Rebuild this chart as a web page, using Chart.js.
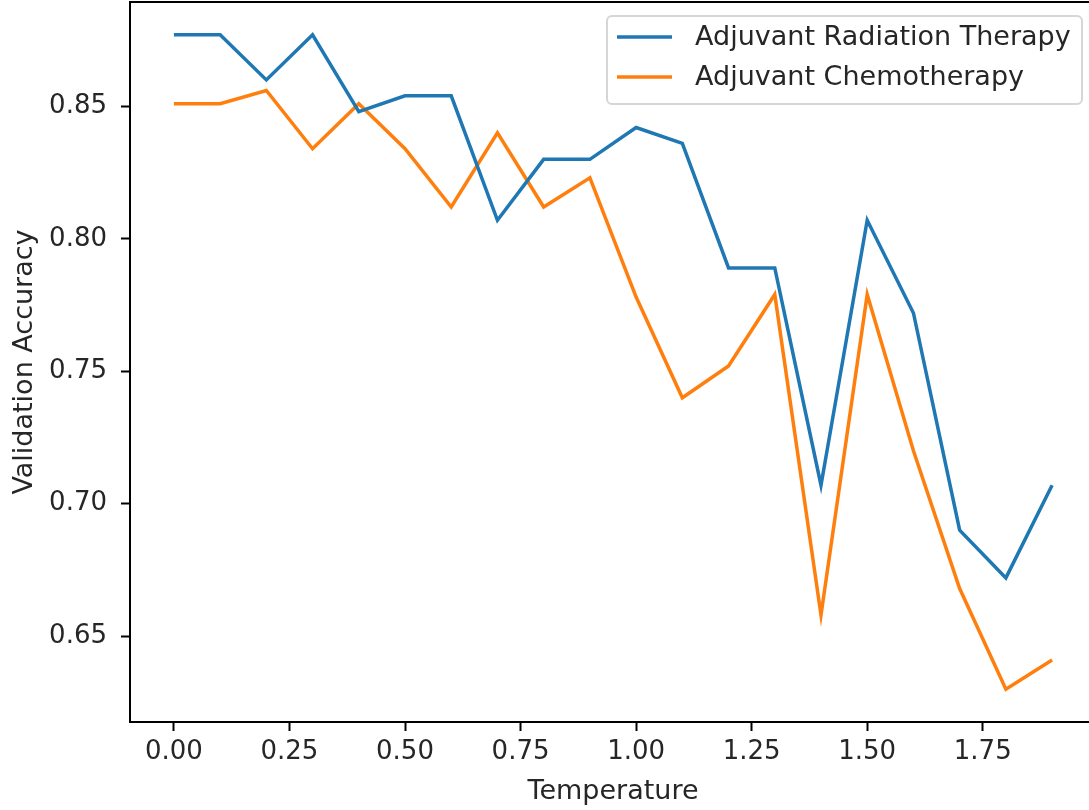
<!DOCTYPE html>
<html>
<head>
<meta charset="utf-8">
<script src="https://cdn.jsdelivr.net/npm/chart.js@4/dist/chart.umd.min.js"></script>
<style>
  html, body { margin: 0; padding: 0; background: #fff; overflow: hidden; }
  #chart { display: block; }
</style>
</head>
<body>
<canvas id="chart" width="1100" height="810" style="width:1100px;height:810px"></canvas>
<script>
// Data
const temperatures = [0.0, 0.1, 0.2, 0.3, 0.4, 0.5, 0.6, 0.7, 0.8, 0.9, 1.0, 1.1, 1.2, 1.3, 1.4, 1.5, 1.6, 1.7, 1.8, 1.9];
const radiationAcc = [0.877, 0.877, 0.860, 0.877, 0.848, 0.854, 0.854, 0.807, 0.830, 0.830, 0.842, 0.836, 0.789, 0.789, 0.707, 0.807, 0.772, 0.690, 0.672, 0.707];
const chemoAcc = [0.851, 0.851, 0.856, 0.834, 0.851, 0.834, 0.812, 0.840, 0.812, 0.823, 0.778, 0.740, 0.752, 0.779, 0.658, 0.779, 0.720, 0.668, 0.630, 0.641];
const xTicks = [0.00, 0.25, 0.50, 0.75, 1.00, 1.25, 1.50, 1.75];
const yTicks = [0.65, 0.70, 0.75, 0.80, 0.85];

const FONT = 'DejaVu Sans';
const TEXT = '#262626';

// box around the plot + matplotlib style legend
const framePlugin = {
  id: 'frame',
  afterDraw(chart) {
    const ctx = chart.ctx;
    const a = chart.chartArea;
    ctx.save();
    ctx.strokeStyle = '#000';
    ctx.lineWidth = 2;
    ctx.beginPath();
    ctx.moveTo(a.left, a.top);
    ctx.lineTo(a.right, a.top);
    ctx.lineTo(a.right, a.bottom);
    ctx.stroke();

    // legend
    const bx = 607, by = 16, bw = 475, bh = 88, r = 5;
    ctx.fillStyle = 'rgba(255,255,255,0.8)';
    ctx.strokeStyle = '#d6d6d6';
    ctx.lineWidth = 2;
    ctx.beginPath();
    ctx.roundRect(bx, by, bw, bh, r);
    ctx.fill();
    ctx.stroke();

    ctx.font = '27px "' + FONT + '"';
    ctx.textBaseline = 'middle';
    ctx.textAlign = 'left';
    chart.data.datasets.forEach((ds, i) => {
      const y = 37 + i * 40;
      ctx.strokeStyle = ds.borderColor;
      ctx.lineWidth = 3.5;
      ctx.beginPath();
      ctx.moveTo(617, y);
      ctx.lineTo(672, y);
      ctx.stroke();
      ctx.fillStyle = TEXT;
      ctx.fillText(ds.label, 695, y + 1);
    });
    ctx.restore();
  }
};

const ctx = document.getElementById('chart').getContext('2d');
const chart = new Chart(ctx, {
  type: 'line',
  data: {
    datasets: [
      {
        label: 'Adjuvant Radiation Therapy',
        data: temperatures.map((t, i) => ({ x: t, y: radiationAcc[i] })),
        borderColor: '#1f77b4',
        borderWidth: 3.5,
        pointRadius: 0,
        tension: 0,
        fill: false
      },
      {
        label: 'Adjuvant Chemotherapy',
        data: temperatures.map((t, i) => ({ x: t, y: chemoAcc[i] })),
        borderColor: '#ff7f0e',
        borderWidth: 3.5,
        pointRadius: 0,
        tension: 0,
        fill: false
      }
    ]
  },
  options: {
    responsive: false,
    animation: false,
    devicePixelRatio: 1,
    layout: { padding: { top: 2, right: 4, left: 0, bottom: 0 } },
    plugins: {
      legend: { display: false },
      tooltip: { enabled: false }
    },
    scales: {
      x: {
        type: 'linear',
        min: -0.095,
        max: 1.995,
        afterBuildTicks: (scale) => { scale.ticks = xTicks.map(v => ({ value: v })); },
        afterFit: (scale) => { scale.height = 88; scale.paddingLeft = 0; scale.paddingRight = 0; },
        ticks: {
          color: TEXT,
          font: { family: FONT, size: 26 },
          padding: 6,
          maxRotation: 0,
          autoSkip: false,
          callback: (v) => Number(v).toFixed(2)
        },
        grid: { drawOnChartArea: false, tickLength: 9, tickColor: '#000', tickWidth: 2 },
        border: { display: true, color: '#000', width: 2 },
        title: {
          display: true,
          text: 'Temperature',
          color: TEXT,
          font: { family: FONT, size: 27 },
          padding: { top: 0, bottom: 2 }
        }
      },
      y: {
        type: 'linear',
        min: 0.6176,
        max: 0.8894,
        afterBuildTicks: (scale) => { scale.ticks = yTicks.map(v => ({ value: v })); },
        afterFit: (scale) => { scale.width = 130; scale.paddingTop = 0; scale.paddingBottom = 0; },
        ticks: {
          color: TEXT,
          font: { family: FONT, size: 26 },
          padding: 14,
          callback: (v) => Number(v).toFixed(2)
        },
        grid: { drawOnChartArea: false, tickLength: 9, tickColor: '#000', tickWidth: 2 },
        border: { display: true, color: '#000', width: 2 },
        title: {
          display: true,
          text: 'Validation Accuracy',
          color: TEXT,
          font: { family: FONT, size: 27 },
          padding: { top: 9, bottom: 9 }
        }
      }
    }
  },
  plugins: [framePlugin]
});
</script>
</body>
</html>
